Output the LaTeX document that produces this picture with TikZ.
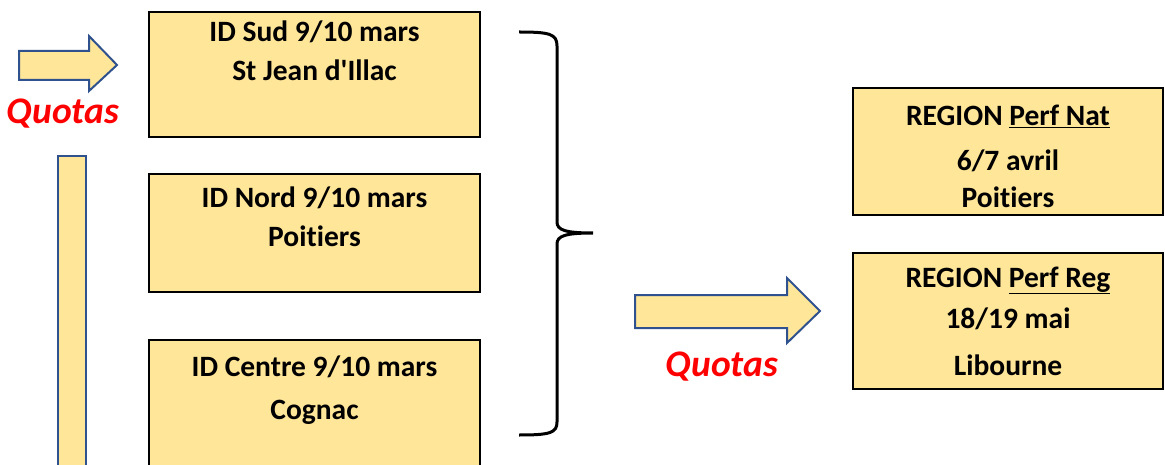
\documentclass[tikz,border=0pt]{standalone}
\usepackage{fontspec}
\setmainfont{Carlito}[Ligatures={NoCommon,TeXOff}]
\usetikzlibrary{positioning}
\definecolor{boxfill}{HTML}{FFE699}
\definecolor{arrowblue}{HTML}{2F528F}
\tikzset{
  idbox/.style={draw=black, line width=2pt, fill=boxfill, inner sep=0pt,
    minimum width=331pt, align=center,
    font=\bfseries\fontsize{29.5}{39}\selectfont},
  regbox/.style={idbox, minimum width=310pt},
  quotas/.style={text=red, font=\bfseries\itshape\fontsize{37.5}{40}\selectfont},
  bigarrow/.style={draw=arrowblue, line width=2pt, fill=boxfill, line join=miter}
}
\begin{document}
\begin{tikzpicture}[x=1pt, y=-1pt]
\useasboundingbox (0,0) rectangle (1165,465);
\clip (0,0) rectangle (1165,465);
\node[idbox, minimum height=125pt] (sud) at (314.5,74.5) {ID Sud 9/10 mars\\St Jean d'Illac\\[8pt]~};
\node[idbox, minimum height=118pt] (nord) at (314.5,233) {ID Nord 9/10 mars\\Poitiers\\[-6pt]~};
\node[idbox, minimum height=140pt] (centre) at (314.5,410) {ID Centre 9/10 mars\\[4pt]Cognac\\[6pt]~};
\node[regbox, minimum height=127pt] (nat) at (1008,151.5) {\rule{0pt}{31pt}REGION \underline{Perf Nat}\\[6pt]6/7 avril\\[-2pt]Poitiers};
\node[regbox, minimum height=136pt] (reg) at (1008,321) {REGION \underline{Perf Reg}\\[2pt]18/19 mai\\[8pt]Libourne};
\node[quotas] (q1) at (63,114) {Quotas};
\node[quotas] (q2) at (722,367) {Quotas};
\draw[bigarrow] (19,51) -- (89,51) -- (89,36) -- (117,65) -- (89,91) -- (89,80) -- (19,80) -- cycle;
\draw[bigarrow] (635,295) -- (787,295) -- (787,278) -- (820,311) -- (787,343) -- (787,328) -- (635,328) -- cycle;
\draw[bigarrow] (58,156) rectangle (86,480);
\draw[line width=3pt] (519,32) .. controls (550,32) and (557,34) .. (557,46) -- (557,222)
  .. controls (557,230) and (565,233) .. (593,233)
  .. controls (565,233) and (557,236) .. (557,244) -- (557,422)
  .. controls (557,433) and (550,435) .. (519,435);
\end{tikzpicture}
\end{document}
